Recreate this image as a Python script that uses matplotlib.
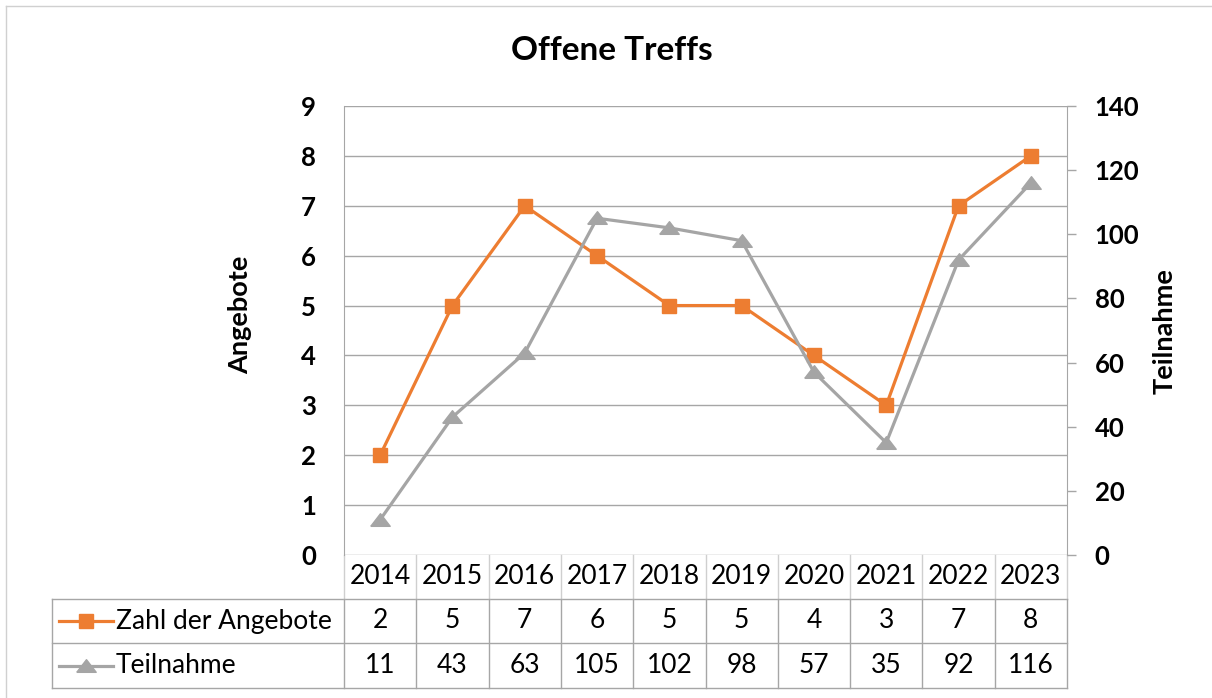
import matplotlib
matplotlib.use("Agg")
import matplotlib.pyplot as plt
from matplotlib.lines import Line2D
import matplotlib.transforms as mtransforms

jahre = ["2014", "2015", "2016", "2017", "2018", "2019", "2020", "2021", "2022", "2023"]
angebote = [2, 5, 7, 6, 5, 5, 4, 3, 7, 8]
teilnahme = [11, 43, 63, 105, 102, 98, 57, 35, 92, 116]

ORANGE = "#ED7D31"
GRAU = "#A5A5A5"
LINIE = "#A6A6A6"
HELL = "#CFCFCF"
plt.rcParams["font.family"] = ["Lato", "DejaVu Sans"]

# flaches Dreieck wie im Excel-Diagramm
DREIECK = [(-1, -0.6), (1, -0.6), (0, 0.7), (-1, -0.6)]

W, H = 1212, 698
fig = plt.figure(figsize=(W / 100, H / 100), dpi=100)

# Rahmen (links/oben)
fig.add_artist(Line2D([6 / W, 6 / W], [0, 1 - 6 / H], color="#D0D0D0", lw=1))
fig.add_artist(Line2D([6 / W, 1], [1 - 6 / H, 1 - 6 / H], color="#D0D0D0", lw=1))

L, R, T, B = 344, 1067, 106, 555
ax = fig.add_axes([L / W, 1 - B / H, (R - L) / W, (B - T) / H])
ax2 = ax.twinx()

x = list(range(len(jahre)))
ax.plot(x, angebote, color=ORANGE, lw=2.3, marker="s", ms=10.5, zorder=3)
ax2.plot(x, teilnahme, color=GRAU, lw=2.3, marker=DREIECK, ms=14, zorder=3)

ax.set_xlim(-0.5, len(jahre) - 0.5)
ax.set_ylim(0, 9)
ax.set_yticks(range(10))
ax2.set_ylim(0, 140)
ax2.set_yticks(range(0, 141, 20))
ax.set_xticks([])
ax.grid(axis="y", color=LINIE, lw=1)
ax.set_axisbelow(True)

for a in (ax, ax2):
    for s in a.spines.values():
        s.set_visible(False)
ax.spines["left"].set_visible(True)
ax.spines["left"].set_color(LINIE)
ax2.spines["right"].set_visible(True)
ax2.spines["right"].set_color(LINIE)

ax.tick_params(axis="y", length=0, pad=20, labelsize=18.5)
ax2.tick_params(axis="y", length=6.5, width=1, color=LINIE, pad=13.5, labelsize=18.5)
for lab in ax.get_yticklabels() + ax2.get_yticklabels():
    lab.set_fontweight("bold")

fig.text(240 / W, 1 - 315 / H, "Angebote", rotation=90, ha="center", va="center",
         fontsize=19.5, fontweight="bold")
fig.text(1165 / W, 1 - 331 / H, "Teilnahme", rotation=90, ha="center", va="center",
         fontsize=19.5, fontweight="bold")
fig.text(612 / W, 1 - 50 / H, "Offene Treffs", ha="center", va="center",
         fontsize=24, fontweight="bold")

# Datentabelle unter der Grafik
tr = mtransforms.blended_transform_factory(ax.transData, ax.transAxes)
h = B - T
y_rows = [0, -44 / h, -88 / h, -133 / h]
x_lab = (52 - L) / (R - L)
kw = dict(color=LINIE, lw=1, clip_on=False)

for yy in y_rows[1:]:
    ax.plot([x_lab, 1], [yy, yy], transform=ax.transAxes, **kw)
ax.plot([x_lab, x_lab], [y_rows[1], y_rows[3]], transform=ax.transAxes, **kw)
for i in range(len(jahre) + 1):
    ax.plot([i - 0.5, i - 0.5], [y_rows[0], y_rows[1]], transform=tr,
            color=HELL, lw=1, clip_on=False)
    ax.plot([i - 0.5, i - 0.5], [y_rows[1], y_rows[3]], transform=tr, **kw)

fs = 19
for i, j in enumerate(jahre):
    ym = (y_rows[0] + y_rows[1]) / 2
    ax.text(i, ym, j, transform=tr, ha="center", va="center", fontsize=fs)
    ym = (y_rows[1] + y_rows[2]) / 2
    ax.text(i, ym, str(angebote[i]), transform=tr, ha="center", va="center", fontsize=fs)
    ym = (y_rows[2] + y_rows[3]) / 2
    ax.text(i, ym, str(teilnahme[i]), transform=tr, ha="center", va="center", fontsize=fs)

reihen = [("Zahl der Angebote", ORANGE, "s", 10.5), ("Teilnahme", GRAU, DREIECK, 14)]
for k, (name, farbe, m, ms) in enumerate(reihen):
    ym = (y_rows[k + 1] + y_rows[k + 2]) / 2
    x0 = (59 - L) / (R - L)
    x1 = (113 - L) / (R - L)
    ax.plot([x0, x1], [ym, ym], color=farbe, lw=2.3, transform=ax.transAxes, clip_on=False)
    ax.plot([(x0 + x1) / 2], [ym], color=farbe, marker=m, ms=ms, transform=ax.transAxes,
            clip_on=False)
    ax.text((116 - L) / (R - L), ym, name, transform=ax.transAxes, ha="left",
            va="center", fontsize=fs)

fig.savefig("out.png", dpi=100)
